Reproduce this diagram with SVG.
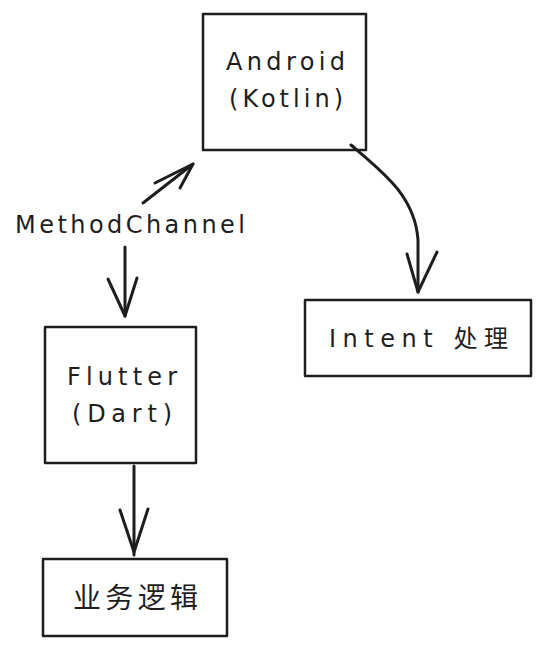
<svg xmlns="http://www.w3.org/2000/svg" width="543" height="645" viewBox="0 0 543 645">
<style>
.box{fill:#fff;stroke:#1e1e1e;stroke-width:2.5;stroke-linejoin:round}
.t{font-family:"DejaVu Sans","Noto Sans CJK SC",sans-serif;font-size:24px;fill:#1e1e1e;text-anchor:middle}
.c{fill:none;stroke:#1e1e1e;stroke-width:3;stroke-linecap:round;stroke-linejoin:round}
</style>
<rect width="543" height="645" fill="#fff"/>
<g id="android">
<rect class="box" x="203" y="14" width="163" height="136"/>
<text class="t" x="285.5" y="70" textLength="119" lengthAdjust="spacing">Android</text>
<text class="t" x="286" y="107" textLength="114" lengthAdjust="spacing">(Kotlin)</text>
</g>
<g id="intent">
<rect class="box" x="305" y="300" width="226" height="76"/>
<text class="t" x="418.5" y="347" textLength="179" lengthAdjust="spacing">Intent 处理</text>
</g>
<g id="flutter">
<rect class="box" x="45" y="327" width="151" height="136"/>
<text class="t" x="122" y="385" textLength="110" lengthAdjust="spacing">Flutter</text>
<text class="t" x="122" y="422" textLength="100" lengthAdjust="spacing">(Dart)</text>
</g>
<g id="biz">
<rect class="box" x="43" y="559" width="184" height="77"/>
<text class="t" x="135.5" y="608" style="font-size:28px" textLength="125" lengthAdjust="spacing">业务逻辑</text>
</g>
<g id="label">
<text class="t" x="130" y="233" textLength="230" lengthAdjust="spacing">MethodChannel</text>
</g>
<g id="connectors">
<path class="c" d="M351 145 C380 170 415 195 418 240 L418 292"/>
<path class="c" d="M407 254 L418 292 L437 252"/>
<path class="c" d="M143 203 L193 164"/>
<path class="c" d="M155 183 L193 164 L180 188"/>
<path class="c" d="M125 247 L125 316"/>
<path class="c" d="M108 279 L125 316 L137 278"/>
<path class="c" d="M134 466 L134 555"/>
<path class="c" d="M120 510 L134 552 L148 509"/>
</g>
</svg>
